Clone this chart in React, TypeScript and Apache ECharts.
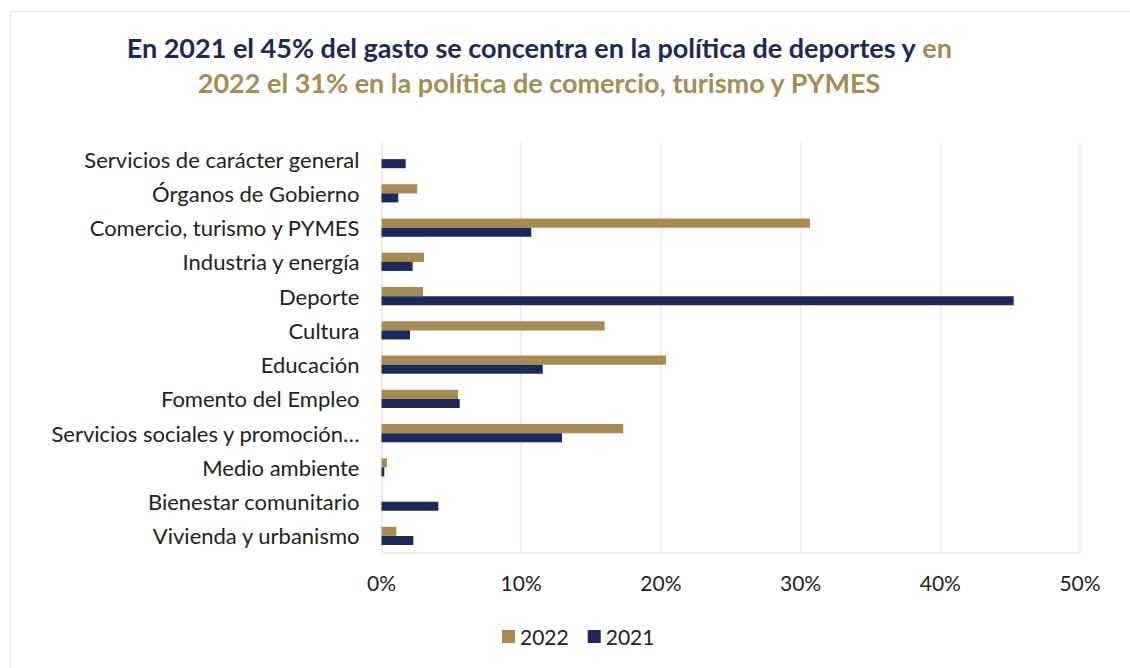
import React, { useEffect, useRef } from "react";
import * as echarts from "echarts";

const categories = [
  "Servicios de carácter general",
  "Órganos de Gobierno",
  "Comercio, turismo y PYMES",
  "Industria y energía",
  "Deporte",
  "Cultura",
  "Educación",
  "Fomento del Empleo",
  "Servicios sociales y promoción…",
  "Medio ambiente",
  "Bienestar comunitario",
  "Vivienda y urbanismo",
];
const values2022 = [0, 2.56, 30.67, 3.04, 2.97, 15.97, 20.36, 5.48, 17.31, 0.39, 0, 1.06];
const values2021 = [1.73, 1.2, 10.72, 2.23, 45.25, 2.04, 11.54, 5.6, 12.92, 0.2, 4.07, 2.28];
const xTicks = [0, 10, 20, 30, 40, 50];

const NAVY = "#1A2A5A";
const GOLD = "#A88B53";
const GRIDC = "#EFEBE0";
const FONT = "Lato, 'Noto Sans', sans-serif";

export default function App() {
  const ref = useRef<HTMLDivElement>(null);
  useEffect(() => {
    document.body.style.margin = "0";
    const chart = echarts.init(ref.current!, null, { renderer: "svg" });
    chart.setOption({
      animation: false,
      backgroundColor: "#fff",
      graphic: [
        {
          type: "rect",
          shape: { x: 10.5, y: 11.5, width: 1200, height: 800 },
          style: { fill: "none", stroke: GRIDC, lineWidth: 1.5 },
          silent: true,
        },
      ],
      title: {
        text:
          "{a|En 2021 el 45% del gasto se concentra en la política de deportes y }{b|en}\n{b|2022 el 31% en la política de comercio, turismo y PYMES}",
        left: 534,
        top: 25,
        textAlign: "center",
        textStyle: {
          rich: {
            a: { color: NAVY, fontSize: 27, fontWeight: "bold", fontFamily: FONT, lineHeight: 35 },
            b: { color: GOLD, fontSize: 27, fontWeight: "bold", fontFamily: FONT, lineHeight: 35 },
          },
        },
      },
      legend: {
        data: ["2022", "2021"],
        left: 502,
        top: 626,
        padding: 0,
        itemWidth: 13,
        itemHeight: 13,
        itemGap: 19,
        icon: "rect",
        textStyle: { fontSize: 21, color: "#222", fontFamily: FONT, padding: [0, 0, 0, 0] },
      },
      grid: { left: 381.5, right: 50, top: 142, bottom: 115, containLabel: false },
      xAxis: {
        type: "value",
        min: 0,
        max: 50,
        interval: 10,
        axisLabel: {
          formatter: (v: number) => (xTicks.includes(v) ? v + "%" : ""),
          fontSize: 21,
          color: "#222",
          fontFamily: FONT,
          margin: 19,
        },
        axisLine: { show: true, lineStyle: { color: GRIDC, width: 1.5 } },
        axisTick: { show: false },
        splitLine: { show: true, lineStyle: { color: GRIDC, width: 1.5 } },
      },
      yAxis: {
        type: "category",
        data: categories,
        inverse: true,
        axisLabel: { fontSize: 22, color: "#222", fontFamily: FONT, margin: 22 },
        axisLine: { show: true, lineStyle: { color: GRIDC, width: 1.5 } },
        axisTick: { show: false },
      },
      series: [
        {
          name: "2022",
          type: "bar",
          data: values2022,
          itemStyle: { color: GOLD },
          barGap: "0%",
          barCategoryGap: "47%",
        },
        {
          name: "2021",
          type: "bar",
          data: values2021,
          itemStyle: { color: NAVY },
          barGap: "0%",
          barCategoryGap: "47%",
        },
      ],
    });
    return () => chart.dispose();
  }, []);
  return <div ref={ref} style={{ width: 1130, height: 668 }} />;
}
